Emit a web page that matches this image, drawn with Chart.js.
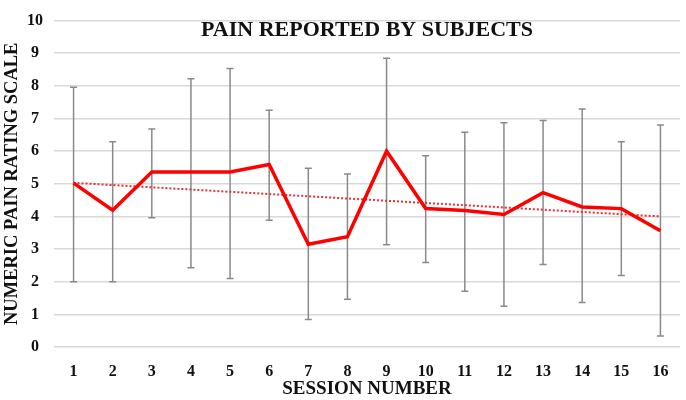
<!DOCTYPE html>
<html>
<head>
<meta charset="utf-8">
<script src="https://cdn.jsdelivr.net/npm/chart.js@4/dist/chart.umd.min.js"></script>
<style>
  html, body { margin: 0; padding: 0; background: #fff; }
  #wrap { width: 686px; height: 400px; }
</style>
</head>
<body>
<div id="wrap"><canvas id="painChart" width="686" height="400"></canvas></div>
<script>
// sessions + mean pain with error bar limits
const sessions = ['1', '2', '3', '4', '5', '6', '7', '8', '9', '10', '11', '12', '13', '14', '15', '16'];
const meanPain = [5.02, 4.19, 5.36, 5.36, 5.36, 5.59, 3.15, 3.38, 6.0, 4.24, 4.18, 4.06, 4.73, 4.29, 4.24, 3.56];
const upperPain = [7.96, 6.29, 6.68, 8.22, 8.53, 7.25, 5.48, 5.3, 8.85, 5.86, 6.58, 6.87, 6.94, 7.29, 6.29, 6.8];
const lowerPain = [2.0, 2.0, 3.96, 2.43, 2.1, 3.88, 0.84, 1.46, 3.13, 2.59, 1.71, 1.25, 2.53, 1.36, 2.19, 0.34];
// linear trend line, only its two ends
const trendPain = [5.03, null, null, null, null, null, null, null, null, null, null, null, null, null, null, 4.0];
const yTicks = [0, 1, 2, 3, 4, 5, 6, 7, 8, 9, 10];

const serif = '"Liberation Serif", "Times New Roman", serif';

// draws the grey error bars under the red line
const errorBars = {
    id: 'errorBars',
    beforeDatasetsDraw(chart) {
        const ctx = chart.ctx;
        const x = chart.scales.x;
        const y = chart.scales.y;
        ctx.save();
        ctx.strokeStyle = '#8a8a8a';
        ctx.lineWidth = 1.5;
        sessions.forEach((s, i) => {
            const px = x.getPixelForValue(i);
            const top = y.getPixelForValue(upperPain[i]);
            const bot = y.getPixelForValue(lowerPain[i]);
            ctx.beginPath();
            ctx.moveTo(px, top);
            ctx.lineTo(px, bot);
            ctx.moveTo(px - 3.5, top);
            ctx.lineTo(px + 3.5, top);
            ctx.moveTo(px - 3.5, bot);
            ctx.lineTo(px + 3.5, bot);
            ctx.stroke();
        });
        ctx.restore();
    }
};

// title sits inside the plot, between the 9 and 10 grid lines
const innerTitle = {
    id: 'innerTitle',
    afterDraw(chart) {
        const ctx = chart.ctx;
        const area = chart.chartArea;
        ctx.save();
        ctx.font = 'bold 22px ' + serif;
        ctx.fillStyle = '#111';
        ctx.textAlign = 'center';
        ctx.textBaseline = 'middle';
        ctx.fillText('PAIN REPORTED BY SUBJECTS', (area.left + area.right) / 2, 30);
        ctx.restore();
    }
};

new Chart(document.getElementById('painChart'), {
    type: 'line',
    data: {
        labels: sessions,
        datasets: [
            {
                label: 'Mean pain',
                data: meanPain,
                borderColor: '#ff0000',
                borderWidth: 3.5,
                pointRadius: 0,
                tension: 0,
                fill: false
            },
            {
                label: 'Trend',
                data: trendPain,
                borderColor: '#e83030',
                borderWidth: 2,
                borderDash: [2, 2],
                pointRadius: 0,
                spanGaps: true,
                fill: false
            }
        ]
    },
    options: {
        responsive: false,
        animation: false,
        layout: { padding: { top: 12, right: 6, left: 0, bottom: 0 } },
        plugins: {
            legend: { display: false },
            tooltip: { enabled: false }
        },
        scales: {
            x: {
                offset: true,
                afterFit(scale) { scale.height = 53; },
                grid: { display: false },
                border: { display: false },
                ticks: {
                    color: '#111',
                    padding: 7,
                    maxRotation: 0,
                    font: { family: serif, size: 16, weight: 'bold' }
                },
                title: {
                    display: true,
                    text: 'SESSION NUMBER',
                    color: '#111',
                    padding: { top: 0, bottom: 0 },
                    font: { family: serif, size: 19, weight: 'bold' }
                }
            },
            y: {
                min: 0,
                max: 10,
                afterBuildTicks(scale) {
                    scale.ticks = yTicks.map(v => ({ value: v }));
                },
                afterFit(scale) { scale.width = 54; },
                grid: { color: '#d9d9d9', lineWidth: 1.5, drawTicks: false },
                border: { display: false },
                ticks: {
                    color: '#111',
                    padding: 11,
                    crossAlign: 'center',
                    font: { family: serif, size: 16, weight: 'bold' }
                },
                title: {
                    display: true,
                    text: 'NUMERIC PAIN RATING SCALE',
                    color: '#111',
                    padding: { top: 1, bottom: 2 },
                    font: { family: serif, size: 18.5, weight: 'bold' }
                }
            }
        }
    },
    plugins: [errorBars, innerTitle]
});
</script>
</body>
</html>
